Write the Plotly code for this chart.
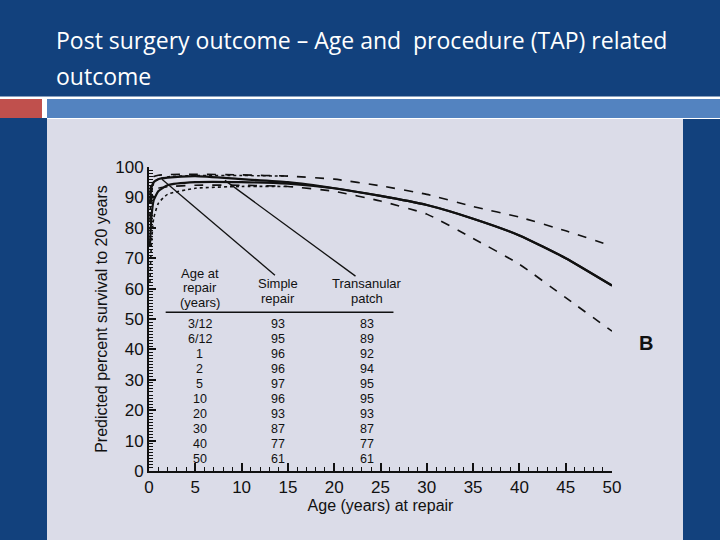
import plotly.graph_objects as go

# ---------------- data ----------------
age_labels = ["3/12", "6/12", "1", "2", "5", "10", "20", "30", "40", "50"]
simple_repair = [93, 95, 96, 96, 97, 96, 93, 87, 77, 61]
transanular_patch = [83, 89, 92, 94, 95, 95, 93, 87, 77, 61]

curve_age = [0.1, 0.25, 0.5, 1, 2, 5, 10, 15, 20, 25, 30, 35, 40, 45, 50]
simple_curve = [88, 93, 95, 96, 96.5, 97, 96, 95, 93, 90.5, 87.5, 83, 77.5, 70, 61]
tap_curve = [74, 83, 89, 92, 94, 95, 95, 94.5, 93, 90.5, 87.5, 83, 77.5, 70, 61]
upper_cl = [91, 95.5, 96.8, 97.3, 97.5, 97.6, 97.4, 97, 96, 93.8, 91, 87, 83.5, 79, 74]
lower_cl = [82, 89, 91.5, 93, 93.5, 94, 94, 93.6, 92, 88.8, 84.5, 76.5, 68, 57, 46]

tap_cl_age = [0.1, 0.25, 0.5, 1, 2, 5, 10, 15]
tap_upper_cl = [84, 91, 94.5, 96, 96.8, 97.2, 97.2, 97]
tap_lower_cl = [62, 74, 83, 88, 91, 93, 93.6, 93.6]

x_ticks = [0, 5, 10, 15, 20, 25, 30, 35, 40, 45, 50]
y_ticks = [0, 10, 20, 30, 40, 50, 60, 70, 80, 90, 100]

# ---------------- style ----------------
W, H = 720, 540
DARK_BLUE = "#12417d"
STRIP_BLUE = "#5383c0"
RED = "#c0504d"
SCAN_BG = "#dbdce8"
INK = "#111111"
FONT = "Liberation Sans, Arial, sans-serif"


def px_x(p):
    return p / W


def px_y(p):
    return 1 - p / H


fig = go.Figure()

line_common = dict(mode="lines", hoverinfo="skip", showlegend=False)
sp = dict(shape="spline", smoothing=0.5)

fig.add_trace(go.Scatter(x=curve_age, y=upper_cl, line=dict(color=INK, width=1.6, dash="dash", **sp), **line_common))
fig.add_trace(go.Scatter(x=curve_age, y=lower_cl, line=dict(color=INK, width=1.6, dash="dash", **sp), **line_common))
fig.add_trace(go.Scatter(x=tap_cl_age, y=tap_upper_cl, line=dict(color=INK, width=1.5, dash="dot", **sp), **line_common))
fig.add_trace(go.Scatter(x=tap_cl_age, y=tap_lower_cl, line=dict(color=INK, width=1.6, dash="dot", **sp), **line_common))
fig.add_trace(go.Scatter(x=curve_age, y=tap_curve, line=dict(color=INK, width=2.2, **sp), **line_common))
fig.add_trace(go.Scatter(x=curve_age, y=simple_curve, line=dict(color=INK, width=2.2, **sp), **line_common))

shapes = [
    dict(type="rect", xref="paper", yref="paper", x0=0, x1=1, y0=px_y(119), y1=px_y(96.5),
         fillcolor="white", line=dict(width=0), layer="below"),
    dict(type="rect", xref="paper", yref="paper", x0=0, x1=px_x(42), y0=px_y(118), y1=px_y(99),
         fillcolor=RED, line=dict(width=0), layer="below"),
    dict(type="rect", xref="paper", yref="paper", x0=px_x(47), x1=1, y0=px_y(118), y1=px_y(99),
         fillcolor=STRIP_BLUE, line=dict(width=0), layer="below"),
    dict(type="rect", xref="paper", yref="paper", x0=0, x1=px_x(47), y0=px_y(119), y1=px_y(118),
         fillcolor=DARK_BLUE, line=dict(width=0), layer="below"),
    dict(type="rect", xref="paper", yref="paper", x0=px_x(47), x1=px_x(683), y0=0, y1=px_y(119),
         fillcolor=SCAN_BG, line=dict(width=0), layer="below"),
    dict(type="line", xref="x", yref="y", x0=1.4, y0=96.0, x1=13.6, y1=64.4,
         line=dict(color=INK, width=1.3)),
    dict(type="line", xref="x", yref="y", x0=8.2, y0=95.6, x1=22.3, y1=64.1,
         line=dict(color=INK, width=1.3)),
    dict(type="line", xref="x", yref="y", x0=1.8, y0=52.2, x1=26.4, y1=52.2,
         line=dict(color=INK, width=1.5)),
]

annotations = [
    dict(text="Post surgery outcome \u2013 Age and\u00a0 procedure (TAP) related", xref="paper", yref="paper",
         x=px_x(54), y=px_y(40), xanchor="left", yanchor="middle", showarrow=False,
         font=dict(family="Open Sans, sans-serif", size=23, color="white")),
    dict(text="outcome", xref="paper", yref="paper",
         x=px_x(54), y=px_y(76), xanchor="left", yanchor="middle", showarrow=False,
         font=dict(family="Open Sans, sans-serif", size=23, color="white")),
    dict(text="<b>B</b>", xref="paper", yref="paper", x=px_x(646), y=px_y(343),
         xanchor="center", yanchor="middle", showarrow=False,
         font=dict(family=FONT, size=20, color=INK)),
]

tfont = dict(family=FONT, size=12.5, color=INK)
hfont = dict(family=FONT, size=13, color=INK)
col_age, col_simple, col_tap = 5.5, 13.9, 23.5

for txt, yy in [("Age at", 65.0), ("repair", 60.2), ("(years)", 55.4)]:
    annotations.append(dict(text=txt, x=col_age, y=yy, xref="x", yref="y", showarrow=False,
                            xanchor="center", yanchor="middle", font=hfont))
for txt, yy in [("Simple", 61.8), ("repair", 56.6)]:
    annotations.append(dict(text=txt, x=col_simple, y=yy, xref="x", yref="y", showarrow=False,
                            xanchor="center", yanchor="middle", font=hfont))
for txt, yy in [("Transanular", 61.8), ("patch", 56.6)]:
    annotations.append(dict(text=txt, x=col_tap, y=yy, xref="x", yref="y", showarrow=False,
                            xanchor="center", yanchor="middle", font=hfont))

for i, (a, s, t) in enumerate(zip(age_labels, simple_repair, transanular_patch)):
    yy = 48.5 - i * 4.95
    for xx, txt in [(col_age, a), (col_simple, str(s)), (col_tap, str(t))]:
        annotations.append(dict(text=txt, x=xx, y=yy, xref="x", yref="y", showarrow=False,
                                xanchor="center", yanchor="middle", font=tfont))

axis_font = dict(family=FONT, size=17, color=INK)

fig.update_layout(
    width=W, height=H,
    autosize=False,
    margin=dict(l=0, r=0, t=0, b=0, autoexpand=False),
    paper_bgcolor=DARK_BLUE,
    plot_bgcolor="rgba(0,0,0,0)",
    showlegend=False,
    shapes=shapes,
    annotations=annotations,
    xaxis=dict(
        domain=[px_x(149), px_x(612)], range=[0, 50], tickvals=x_ticks,
        ticktext=[str(v) for v in x_ticks], automargin=False,
        showgrid=False, zeroline=False, showline=True, linecolor=INK, linewidth=2,
        ticks="inside", ticklen=8, tickwidth=1.5, tickcolor=INK,
        minor=dict(dtick=1, ticks="inside", ticklen=4, tickwidth=1, tickcolor=INK, showgrid=False),
        tickfont=axis_font,
        title=dict(text="Age (years) at repair", font=dict(family=FONT, size=16, color=INK), standoff=3),
    ),
    yaxis=dict(
        domain=[1 - 471 / H, 1 - 167 / H], range=[0, 100], tickvals=y_ticks,
        ticktext=[str(v) for v in y_ticks], automargin=False,
        showgrid=False, zeroline=False, showline=True, linecolor=INK, linewidth=2,
        ticks="inside", ticklen=7, tickwidth=1.5, tickcolor=INK,
        minor=dict(dtick=1, ticks="inside", ticklen=4, tickwidth=1, tickcolor=INK, showgrid=False),
        tickfont=axis_font,
        title=dict(text="Predicted percent survival to 20 years", font=dict(family=FONT, size=16, color=INK), standoff=4),
    ),
)

fig.write_html(
    "out.html",
    config={"responsive": False, "displayModeBar": False},
    post_script="document.body.style.margin='0';document.body.style.overflow='hidden';",
)
